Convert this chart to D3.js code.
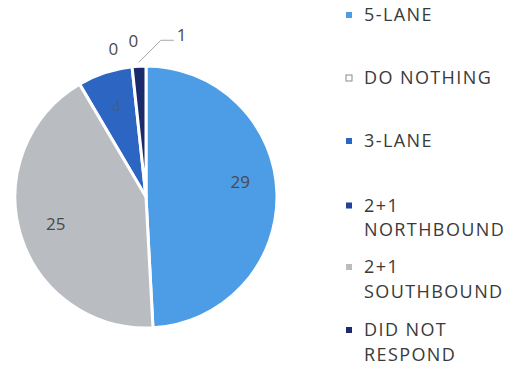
<!DOCTYPE html>
<html>
<head>
<meta charset="utf-8">
<script src="https://cdn.jsdelivr.net/npm/d3@7"></script>
<style>
  body { margin: 0; background: #fff; }
  text { font-family: "Open Sans", "Noto Sans", sans-serif; }
  .legend text { font-size: 18px; fill: #3a3a3a; letter-spacing: 1.4px; }
  .labels text { font-size: 17px; fill: #4a4a4a; }
</style>
</head>
<body>
<svg id="chart"></svg>
<script>
// legend order
var categories = ["5-LANE", "DO NOTHING", "3-LANE", "2+1 NORTHBOUND", "2+1 SOUTHBOUND", "DID NOT RESPOND"];
var values = [29, 0, 4, 0, 25, 1];
// legend lines (wrapped as in the original)
var legendLines = [["5-LANE"], ["DO NOTHING"], ["3-LANE"], ["2+1", "NORTHBOUND"], ["2+1", "SOUTHBOUND"], ["DID NOT", "RESPOND"]];
// order the slices go round the pie, clockwise from 12 o'clock
var pieOrder = ["5-LANE", "2+1 SOUTHBOUND", "3-LANE", "DO NOTHING", "2+1 NORTHBOUND", "DID NOT RESPOND"];

var colors = {
  "5-LANE": "#4d9de6",
  "DO NOTHING": "#ffffff",
  "3-LANE": "#2c66c2",
  "2+1 NORTHBOUND": "#22439a",
  "2+1 SOUTHBOUND": "#b9bdc1",
  "DID NOT RESPOND": "#1b2a6a"
};

var width = 514, height = 372;
var cx = 146, cy = 197, radius = 131;

var svg = d3.select("#chart").attr("width", width).attr("height", height);

var data = categories.map(function(c, i){ return {cat: c, value: values[i]}; });

var pie = d3.pie()
  .sort(function(a, b){ return pieOrder.indexOf(a.cat) - pieOrder.indexOf(b.cat); })
  .value(function(d){ return d.value; })(data);

var arc = d3.arc().innerRadius(0).outerRadius(radius);
var labelArc = d3.arc().innerRadius(radius * 0.72).outerRadius(radius * 0.72);

var g = svg.append("g").attr("transform", "translate(" + cx + "," + cy + ")");

g.append("g").selectAll("path")
  .data(pie.filter(function(d){ return d.value > 0; }))
  .enter().append("path")
  .attr("d", arc)
  .attr("fill", function(d){ return colors[d.data.cat]; })
  .attr("stroke", "#fff")
  .attr("stroke-width", 3)
  .attr("stroke-linejoin", "round");

var labels = g.append("g").attr("class", "labels");
var total = d3.sum(values);

function mid(d){ return (d.startAngle + d.endAngle) / 2; }

// big slices: label inside
pie.filter(function(d){ return d.value / total > 0.05; }).forEach(function(d){
  var p = labelArc.centroid(d);
  var dy = d.data.cat == "5-LANE" ? -12 : 0; // "best fit" nudge
  labels.append("text")
    .attr("x", p[0]).attr("y", p[1] + dy)
    .attr("text-anchor", "middle").attr("dy", "0.35em")
    .style("fill", d.data.cat == "3-LANE" ? "#3f5f90" : null)
    .text(d.value);
});

// zero slices: outside, spread apart
var zeros = pie.filter(function(d){ return d.value == 0; });
zeros.forEach(function(d, i){
  var a = mid(d), r = radius * 1.2;
  var x = r * Math.sin(a) + (i - (zeros.length - 1) / 2) * 20 - 6;
  var y = -r * Math.cos(a) + (zeros.length - 1 - i) * 8;
  labels.append("text")
    .attr("x", x).attr("y", y)
    .attr("text-anchor", "middle").attr("dy", "0.35em")
    .text(d.value);
});

// small non-zero slices: leader line out to the right
pie.filter(function(d){ return d.value > 0 && d.value / total <= 0.05; }).forEach(function(d){
  var a = mid(d);
  var p0 = [radius * 1.03 * Math.sin(a), -radius * 1.03 * Math.cos(a)];
  var p1 = [p0[0] + 22, p0[1] - 22];
  var p2 = [p1[0] + 13, p1[1]];
  labels.append("polyline")
    .attr("points", [p0, p1, p2].join(" "))
    .attr("fill", "none").attr("stroke", "#a6a6a6").attr("stroke-width", 1);
  labels.append("text")
    .attr("x", p2[0] + 3).attr("y", p2[1] - 5)
    .attr("dy", "0.35em")
    .text(d.value);
});

// legend
var legend = svg.append("g").attr("class", "legend").attr("transform", "translate(346,0)");
var rowY = d3.scalePoint().domain(categories).range([15, 330]);
var lineH = 24.5;

categories.forEach(function(c, i){
  var y = rowY(c) + (i == 3 ? 1.5 : 0);
  var row = legend.append("g").attr("transform", "translate(0," + y + ")");
  row.append("rect")
    .attr("x", 0).attr("y", -3).attr("width", 6).attr("height", 6)
    .attr("fill", colors[c])
    .attr("stroke", c == "DO NOTHING" ? "#8a8a8a" : "none")
    .attr("stroke-width", 1);
  legendLines[i].forEach(function(t, j){
    row.append("text")
      .attr("x", 18).attr("y", j * lineH)
      .attr("dy", "0.35em")
      .text(t);
  });
});
</script>
</body>
</html>
